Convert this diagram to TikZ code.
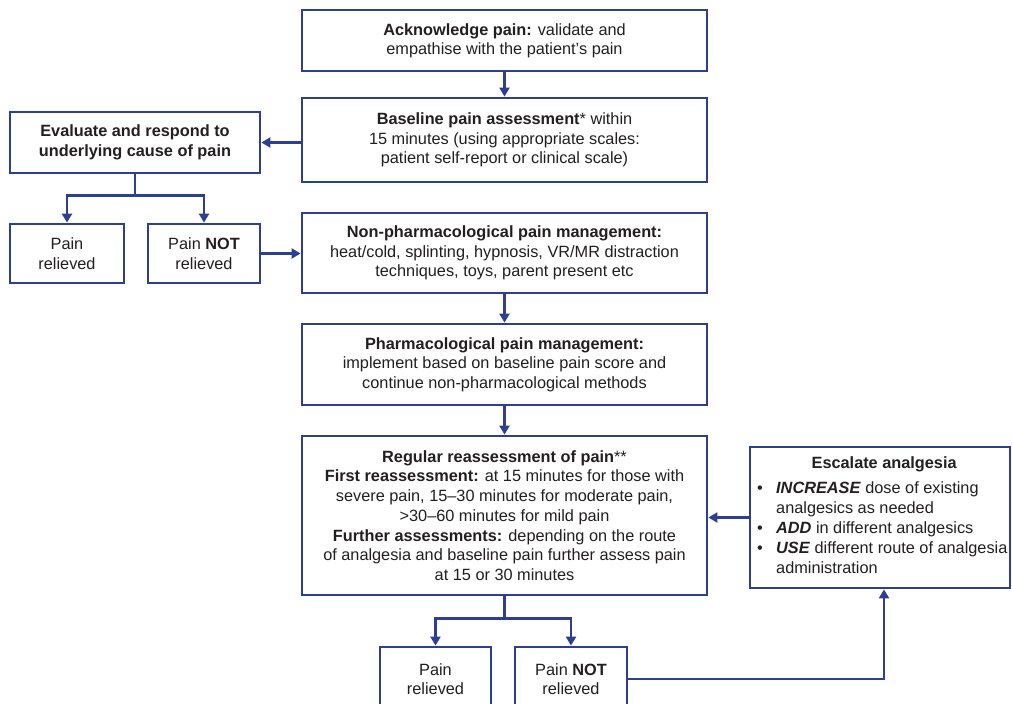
\documentclass[tikz,border=0pt]{standalone}
\usepackage{fontspec}
\setmainfont{Liberation Sans}
\usetikzlibrary{arrows.meta,calc}
\definecolor{fb}{RGB}{46,62,145}
\definecolor{tx}{RGB}{35,31,32}
\begin{document}
\begin{tikzpicture}[x=1pt,y=-1pt,
  box/.style={draw=fb, line width=2.8pt, rectangle, align=center, text=tx, inner sep=0pt,
    font=\fontsize{16.3}{19.4}\selectfont},
  arr/.style={draw=fb, line width=2.8pt, -{Triangle[width=10pt,length=9pt]}},
  ln/.style={draw=fb, line width=2.8pt}]
\useasboundingbox (0,0) rectangle (1012,704);
\fill[white] (0,0) rectangle (1012,704);

\node[box, minimum width=405, minimum height=61] (ack) at (504.5,40.5)
  {\textbf{Acknowledge pain:} validate and\\empathise with the patient's pain};
\node[box, minimum width=405, minimum height=84] (base) at (504.5,140)
  {\textbf{Baseline pain assessment}* within\\15 minutes (using appropriate scales:\\patient self-report or clinical scale)};
\node[box, minimum width=250, minimum height=61] (eval) at (135,142.5)
  {\textbf{Evaluate and respond to}\\\textbf{underlying cause of pain}};
\node[box, minimum width=114, minimum height=59] (prl) at (67,253.5)
  {Pain\\relieved};
\node[box, minimum width=112, minimum height=59] (pnl) at (204,253.5)
  {Pain \textbf{NOT}\\relieved};
\node[box, minimum width=405, minimum height=80] (np) at (504.5,253)
  {\textbf{Non-pharmacological pain management:}\\heat/cold, splinting, hypnosis, VR/MR distraction\\techniques, toys, parent present etc};
\node[box, minimum width=405, minimum height=81] (ph) at (504.5,364.5)
  {\textbf{Pharmacological pain management:}\\implement based on baseline pain score and\\continue non-pharmacological methods};
\node[box, minimum width=405, minimum height=159, font=\fontsize{16.3}{19.7}\selectfont] (reg) at (504.5,515.5)
  {\textbf{Regular reassessment of pain}**\\
   \textbf{First reassessment:} at 15 minutes for those with\\
   severe pain, 15--30 minutes for moderate pain,\\
   >30--60 minutes for mild pain\\
   \textbf{Further assessments:} depending on the route\\
   of analgesia and baseline pain further assess pain\\
   at 15 or 30 minutes};
\node[box, minimum width=260, minimum height=141] (esc) at (880,517.5) {};
\node[text=tx, anchor=north west, inner sep=0pt, align=left,
  font=\fontsize{16.3}{20}\selectfont] (esctext) at (757,456)
  {\makebox[254pt][c]{\textbf{Escalate analgesia}}\\[5pt]
   \makebox[19pt][l]{•}\textbf{\textit{INCREASE}} dose of existing\\
   \hspace*{19pt}analgesics as needed\\
   \makebox[19pt][l]{•}\textbf{\textit{ADD}} in different analgesics\\
   \makebox[19pt][l]{•}\textbf{\textit{USE}} different route of analgesia\\
   \hspace*{19pt}administration};
\node[box, minimum width=111, minimum height=64] (prb) at (435.5,679)
  {Pain\\relieved};
\node[box, minimum width=112, minimum height=64] (pnb) at (571,679)
  {Pain \textbf{NOT}\\relieved};

\draw[arr] (ack) -- (base);
\draw[arr] (base.west |- eval.east) -- (eval.east);
\coordinate (ej) at ($(eval.south)+(0,21)$);
\draw[ln] (eval.south) -- (ej);
\draw[arr] (ej) -| (prl.north);
\draw[arr] (ej) -| (pnl.north);
\draw[arr] (pnl.east) -- (pnl.east -| np.west);
\draw[arr] (np) -- (ph);
\draw[arr] (ph) -- (reg);
\coordinate (rj) at ($(reg.south)+(0,22)$);
\draw[ln] (reg.south) -- (rj);
\draw[arr] (rj) -| (prb.north);
\draw[arr] (rj) -| (pnb.north);
\draw[arr] (pnb.east) -| ([xshift=4pt]esc.south);
\draw[arr] (esc.west) -- (esc.west -| reg.east);
\end{tikzpicture}
\end{document}
